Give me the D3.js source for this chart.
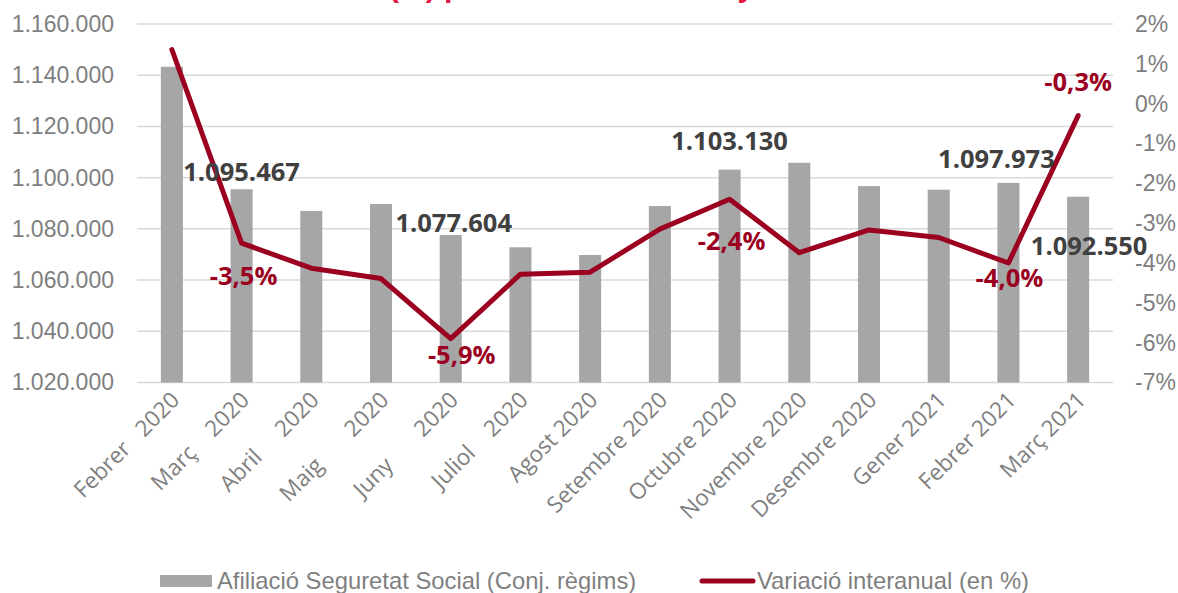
<!DOCTYPE html>
<html>
<head>
<meta charset="utf-8">
<script src="https://cdn.jsdelivr.net/npm/d3@7/dist/d3.min.js"></script>
<style>
  html, body { margin: 0; padding: 0; background: #fff; }
  svg { display: block; }
</style>
</head>
<body>
<svg id="chart" width="1178" height="593"></svg>
<script>
// ---- DATA ----
const months = ["Febrer   2020", "Març    2020", "Abril     2020", "Maig       2020", "Juny       2020", "Juliol    2020",
  "Agost 2020", "Setembre 2020", "Octubre 2020", "Novembre 2020", "Desembre 2020", "Gener 2021", "Febrer 2021", "Març 2021"];
const afiliacio = [1143300, 1095467, 1087000, 1089700, 1077604, 1072800, 1069800, 1088900, 1103130, 1105800, 1096700, 1095300, 1097973, 1092550];
const variacio = [1.36, -3.5, -4.13, -4.39, -5.9, -4.28, -4.23, -3.15, -2.4, -3.74, -3.17, -3.36, -4.0, -0.3];
const leftTicks = [1020000, 1040000, 1060000, 1080000, 1100000, 1120000, 1140000, 1160000];
const rightTicks = [-7, -6, -5, -4, -3, -2, -1, 0, 1, 2];
const barLabelIdx = [1, 4, 8, 12, 13];
const pctLabelIdx = [1, 4, 8, 12, 13];
const seriesNames = ["Afiliació Seguretat Social (Conj. règims)", "Variació interanual (en %)"];
const titleText = "(%) per mesos a Catalunya";

// ---- LAYOUT / STYLE ----
const W = 1178, H = 593;
const plot = { left: 137, right: 1113, top: 24, bottom: 382.5 };
const barColor = "#a6a6a6", lineColor = "#9b0020", gridColor = "#d9d9d9";
const axisText = "#7f7f7f", labelDark = "#404040";
// label offsets (dx, dy) relative to mark anchor, styling only
const barLabelOff = { 1: [0, -8], 4: [3, -3], 8: [0, -20], 12: [-12, -15], 13: [11, 58] };
const pctLabelOff = { 1: [2, 42], 4: [11, 25], 8: [2, 51], 12: [1, 24], 13: [0, -25] };

const loc = d3.formatLocale({ decimal: ",", thousands: ".", grouping: [3], currency: ["", "€"], minus: "-" });
const fmtInt = loc.format(",d");
const fmtPct0 = v => loc.format("d")(v) + "%";
const fmtPct1 = v => loc.format(".1f")(v) + "%";

const svg = d3.select("#chart");

const x = d3.scaleBand().domain(d3.range(months.length))
  .range([plot.left, plot.right]).paddingInner(0.684).paddingOuter(0.342);
const xc = i => x(i) + x.bandwidth() / 2;
const yL = d3.scaleLinear().domain([1020000, 1160000]).range([plot.bottom, plot.top]);
const yR = d3.scaleLinear().domain([-7, 2]).range([plot.bottom, plot.top]);

// Title (clipped at top like the reference)
svg.append("text").attr("x", 580).attr("y", -3.5).attr("text-anchor", "middle")
  .attr("font-family", "Liberation Sans, Arial, sans-serif").attr("font-weight", "bold")
  .attr("font-size", 30).attr("fill", "#e4173e").text(titleText);

// Gridlines
svg.append("g").selectAll("line").data(leftTicks).join("line")
  .attr("x1", plot.left).attr("x2", plot.right)
  .attr("y1", d => yL(d)).attr("y2", d => yL(d))
  .attr("stroke", gridColor).attr("stroke-width", 1.5);

// Left axis
const gL = svg.append("g").attr("transform", `translate(${plot.left},0)`)
  .call(d3.axisLeft(yL).tickValues(leftTicks).tickFormat(fmtInt).tickSize(0).tickPadding(23));
gL.select(".domain").remove();
gL.selectAll("text").attr("font-family", "Liberation Sans, Arial, sans-serif")
  .attr("font-size", 23).attr("fill", axisText);

// Right axis
const gR = svg.append("g").attr("transform", `translate(${plot.right},0)`)
  .call(d3.axisRight(yR).tickValues(rightTicks).tickFormat(fmtPct0).tickSize(0).tickPadding(22));
gR.select(".domain").remove();
gR.selectAll("text").attr("font-family", "Liberation Sans, Arial, sans-serif")
  .attr("font-size", 23).attr("fill", axisText);

// Bars
svg.append("g").selectAll("rect").data(afiliacio).join("rect")
  .attr("x", (d, i) => x(i)).attr("width", x.bandwidth())
  .attr("y", d => yL(d)).attr("height", d => yL(1020000) - yL(d))
  .attr("fill", barColor);

// X axis labels
const gX = svg.append("g").attr("transform", `translate(0,${plot.bottom})`)
  .call(d3.axisBottom(x).tickFormat(i => months[i]).tickSize(0).tickPadding(0));
gX.select(".domain").remove();
gX.selectAll("text")
  .attr("font-family", "Open Sans, sans-serif").attr("font-size", 22.5).attr("fill", axisText)
  .attr("text-anchor", "end").attr("dy", null).attr("y", 0)
  .attr("transform", "translate(9,19) rotate(-45)")
  .style("white-space", "pre").attr("xml:space", "preserve");

// Line
const line = d3.line().x((d, i) => xc(i)).y(d => yR(d));
svg.append("path").datum(variacio).attr("d", line)
  .attr("fill", "none").attr("stroke", lineColor).attr("stroke-width", 5)
  .attr("stroke-linejoin", "round").attr("stroke-linecap", "round");

// Bar labels
svg.append("g").selectAll("text").data(barLabelIdx).join("text")
  .attr("x", i => xc(i) + barLabelOff[i][0]).attr("y", i => yL(afiliacio[i]) + barLabelOff[i][1])
  .attr("text-anchor", "middle").attr("font-family", "Open Sans, sans-serif")
  .attr("font-weight", "bold").attr("font-size", 25.5).attr("fill", labelDark)
  .text(i => fmtInt(afiliacio[i]));

// Percent labels
svg.append("g").selectAll("text").data(pctLabelIdx).join("text")
  .attr("x", i => xc(i) + pctLabelOff[i][0]).attr("y", i => yR(variacio[i]) + pctLabelOff[i][1])
  .attr("text-anchor", "middle").attr("font-family", "Open Sans, sans-serif")
  .attr("font-weight", "bold").attr("font-size", 25.5).attr("fill", lineColor)
  .text(i => fmtPct1(variacio[i]));

// Legend
const lg = svg.append("g");
lg.append("rect").attr("x", 160).attr("y", 575).attr("width", 52).attr("height", 12).attr("fill", barColor);
lg.append("text").attr("x", 217).attr("y", 589).attr("font-family", "Liberation Sans, Arial, sans-serif")
  .attr("font-size", 23.8).attr("fill", axisText).text(seriesNames[0]);
lg.append("line").attr("x1", 702).attr("x2", 753).attr("y1", 581).attr("y2", 581)
  .attr("stroke", lineColor).attr("stroke-width", 5).attr("stroke-linecap", "round");
lg.append("text").attr("x", 757).attr("y", 589).attr("font-family", "Liberation Sans, Arial, sans-serif")
  .attr("font-size", 23.8).attr("fill", axisText).text(seriesNames[1]);
</script>
</body>
</html>
